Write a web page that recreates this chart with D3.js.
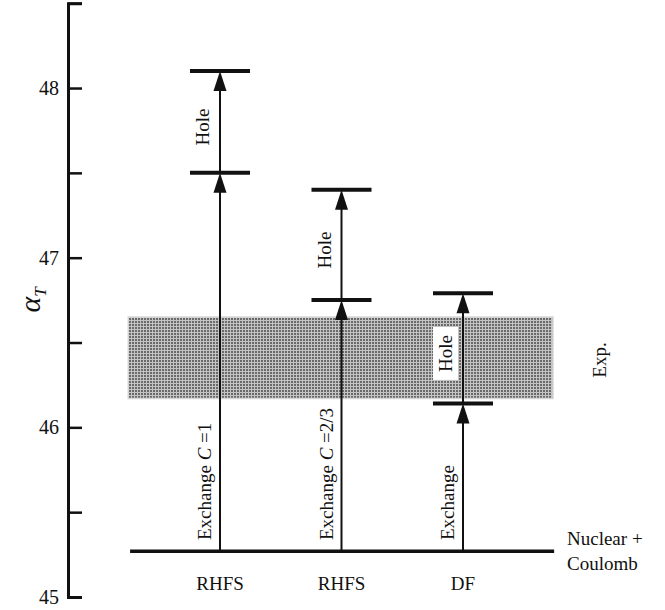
<!DOCTYPE html>
<html lang="en">
    <head>
        <meta charset="utf-8">
        <title>alpha_T contributions</title>
        <script type="text/javascript" src="https://cdn.jsdelivr.net/npm/d3@7"></script>
        <style>
            body { margin: 0; background: #fff; }
            svg text { font-family: "Liberation Serif", "DejaVu Serif", serif; fill: #111; }
        </style>
    </head>
    <body>
        <div class="example"></div>
        <script type="text/javascript">
            // data
            var methods = ["RHFS", "RHFS", "DF"];
            var exchangeC = ["=1", "=2/3", null];      // null: plain "Exchange"
            var baseValue = 45.27;                      // Nuclear + Coulomb level
            var exchangeTop = [47.5, 46.75, 46.14];
            var holeTop = [48.1, 47.4, 46.79];
            var expBand = [46.17, 46.65];
            var yTicks = [45, 45.5, 46, 46.5, 47, 47.5, 48, 48.5];

            var w = 665, h = 610;
            var svg = d3.select("body div.example")
                        .append("svg")
                        .attr("width", w)
                        .attr("height", h)
                        .style("display", "block");

            // scales
            var yScale = d3.scaleLinear().domain([45, 48.5]).range([597, 3.2]);
            var xScale = d3.scaleLinear().domain([0, 4]).range([98.5, 584.5]);
            var colX = function(d, i){ return xScale(i + 1); };

            // grey mesh pattern for the experimental band
            var pat = svg.append("defs").append("pattern")
                         .attr("id", "mesh")
                         .attr("patternUnits", "userSpaceOnUse")
                         .attr("width", 3).attr("height", 3);
            pat.append("rect").attr("width", 3).attr("height", 3).attr("fill", "#6a6a6a");
            pat.append("rect").attr("x", 2).attr("width", 1).attr("height", 3).attr("fill", "#c4c4c4");
            pat.append("rect").attr("y", 2).attr("width", 3).attr("height", 1).attr("fill", "#c4c4c4");

            svg.append("rect")
               .attr("x", xScale(0.245))
               .attr("y", yScale(expBand[1]))
               .attr("width", xScale(3.74) - xScale(0.245))
               .attr("height", yScale(expBand[0]) - yScale(expBand[1]))
               .attr("fill", "url(#mesh)")
               .attr("stroke", "#d4d4d4")
               .attr("stroke-width", 1.5);

            // y axis, ticks pointing inward
            var yAxis = d3.axisLeft(yScale)
                          .tickValues(yTicks)
                          .tickSizeInner(-14)
                          .tickSizeOuter(-14)
                          .tickPadding(9)
                          .tickFormat(function(d){ return d % 1 === 0 ? d : ""; });
            var ax = svg.append("g")
                        .attr("class", "y axis")
                        .attr("transform", "translate(68, 0)")
                        .call(yAxis);
            ax.attr("font-family", null);
            ax.select(".domain").attr("stroke", "#111").attr("stroke-width", 3);
            ax.selectAll(".tick line").attr("stroke", "#111").attr("stroke-width", 2.5);
            ax.selectAll(".tick text")
              .attr("font-size", 20)
              .attr("fill", "#111");

            // axis title alpha_T
            var yt = svg.append("text")
                        .attr("transform", "translate(40, 300) rotate(-90)")
                        .attr("text-anchor", "middle")
                        .attr("font-size", 30)
                        .attr("font-style", "italic");
            yt.append("tspan").text("α");
            yt.append("tspan").attr("font-size", 17).attr("dy", 6).text("T");

            // baseline (Nuclear + Coulomb)
            svg.append("line")
               .attr("x1", xScale(0.26)).attr("x2", xScale(3.75))
               .attr("y1", yScale(baseValue)).attr("y2", yScale(baseValue))
               .attr("stroke", "#111").attr("stroke-width", 3.5);

            var nc = svg.append("text").attr("x", 567).attr("font-size", 19);
            nc.append("tspan").attr("y", 545).text("Nuclear +");
            nc.append("tspan").attr("x", 567).attr("y", 570).text("Coulomb");

            svg.append("text")
               .attr("transform", "translate(606, 360) rotate(-90)")
               .attr("text-anchor", "middle")
               .attr("font-size", 19)
               .text("Exp.");

            // arrows
            function arrow(x, y0, y1){
                svg.append("line")
                   .attr("x1", x).attr("x2", x)
                   .attr("y1", y0).attr("y2", y1 + 12)
                   .attr("stroke", "#111").attr("stroke-width", 2);
                svg.append("path")
                   .attr("d", "M" + x + "," + y1 + "L" + (x - 6.5) + "," + (y1 + 20) + "L" + (x + 6.5) + "," + (y1 + 20) + "Z")
                   .attr("fill", "#111");
            }
            function bar(x, y){
                svg.append("line")
                   .attr("x1", x - 30).attr("x2", x + 30)
                   .attr("y1", y).attr("y2", y)
                   .attr("stroke", "#111").attr("stroke-width", 4);
            }

            methods.forEach(function(m, i){
                var x = colX(m, i);
                arrow(x, yScale(baseValue), yScale(exchangeTop[i]));
                arrow(x, yScale(exchangeTop[i]), yScale(holeTop[i]));
                bar(x, yScale(exchangeTop[i]));
                bar(x, yScale(holeTop[i]));

                // method label under the baseline
                svg.append("text")
                   .attr("x", x).attr("y", 590)
                   .attr("text-anchor", "middle")
                   .attr("font-size", 19)
                   .text(m);

                // exchange label
                var ex = svg.append("text")
                            .attr("transform", "translate(" + (x - 9) + "," + 540 + ") rotate(-90)")
                            .attr("font-size", 19);
                ex.append("tspan").text("Exchange");
                if (exchangeC[i] !== null) {
                    ex.append("tspan").text(" ");
                    ex.append("tspan").attr("font-style", "italic").text("C");
                    ex.append("tspan").text(" " + exchangeC[i]);
                }

                // hole label
                var mid = (yScale(exchangeTop[i]) + yScale(holeTop[i])) / 2 + 5;
                var hl = svg.append("g").attr("transform", "translate(" + (x - 11) + "," + mid + ") rotate(-90)");
                var ht = hl.append("text")
                           .attr("text-anchor", "middle")
                           .attr("font-size", 19)
                           .text("Hole");
                if (i === 2) {
                    var bb = ht.node().getBBox();
                    hl.insert("rect", "text")
                      .attr("x", bb.x - 8).attr("y", bb.y - 2)
                      .attr("width", bb.width + 16).attr("height", bb.height + 4)
                      .attr("fill", "#fff");
                }
            });
        </script>
    </body>
</html>
